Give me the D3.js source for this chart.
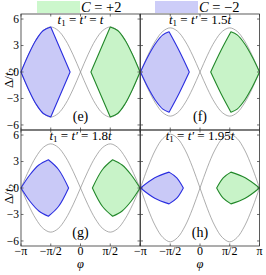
<!DOCTYPE html>
<html>
<head>
<meta charset="utf-8">
<script src="https://cdn.jsdelivr.net/npm/d3@7"></script>
<style>
  body { margin: 0; background: #fff; }
</style>
</head>
<body>
<div id="container"></div>
<script>
/* CONSTANTS AND GLOBALS */
const width = 266, height = 275;
const colX = [21, 140.5], rowY = [14, 130];
const panelW = 119, panelH = 116;
const serif = "'Liberation Serif', 'Times New Roman', serif";

/* DATA - phi is in units of pi, gap in units of t2 */
const panelTags = ["(e)", "(f)", "(g)", "(h)"];
const hopLabels = ["t", "1.5t", "1.8t", "1.95t"];
const phiTicks = [-1, -0.5, 0, 0.5, 1];
const phiTickLabels = ["\u2212\u03c0", "\u2212\u03c0/2", "0", "\u03c0/2", "\u03c0"];
const gapTicks = [6, 3, 0, -3, -6];
const gapTickLabels = ["6", "3", "0", "\u22123", "\u22126"];

// gray gap-closing curve, left half lobe (phi from -1 to 0)
const grayPhi = [-1, -0.875, -0.75, -0.625, -0.5, -0.375, -0.25, -0.125, 0];
const grayE = [0, 1.95, 3.6, 4.7, 5.1, 4.7, 3.6, 1.95, 0];
const grayF = [0, 1.9, 3.5, 4.6, 5.0, 4.6, 3.5, 1.9, 0];
const grayG = [0, 1.9, 3.5, 4.6, 5.0, 4.6, 3.5, 1.9, 0];
const grayH = [0, 2.35, 4.3, 5.6, 6.1, 5.6, 4.3, 2.35, 0];

// C = -2 region, upper edge: [phi, gap], left arc then right arc (green is its mirror)
const blueLeftE = [[-1, 0], [-0.875, 1.95], [-0.75, 3.6], [-0.625, 4.7], [-0.5, 5.1]];
const blueRightE = [[-0.5, 5.1], [-0.175, 0]];
const blueLeftF = [[-1, 0], [-0.875, 1.75], [-0.75, 3.2], [-0.625, 4.2], [-0.52, 4.55]];
const blueRightF = [[-0.52, 4.55], [-0.35, 2.4], [-0.18, 0]];
const blueLeftG = [[-1, 0], [-0.85, 1.5], [-0.7, 2.6], [-0.54, 3.2]];
const blueRightG = [[-0.54, 3.2], [-0.37, 2.1], [-0.2, 0]];
const blueLeftH = [[-1, 0], [-0.76, 1.16], [-0.52, 1.8]];
const blueRightH = [[-0.52, 1.8], [-0.39, 1.16], [-0.28, 0]];

const grays = [grayE, grayF, grayG, grayH];
const blueArcs = [[blueLeftE, blueRightE], [blueLeftF, blueRightF], [blueLeftG, blueRightG], [blueLeftH, blueRightH]];

const blueFill = "#c9c9f7", blueLine = "#2a2ee0";
const greenFill = "#c8f3c8", greenLine = "#22882a";

/* INIT */
const svg = d3.select("#container").append("svg")
  .attr("width", width).attr("height", height)
  .attr("font-family", serif);

function addText(sel) {
  return sel.append("text").attr("font-family", serif).attr("fill", "#000");
}

// legend
const legend = [
  {x: 37, fill: "#ccf7cc", sign: "+2"},
  {x: 155, fill: "#cdcdf8", sign: "\u22122"}
];
legend.forEach(l => {
  svg.append("rect").attr("x", l.x).attr("y", 1).attr("width", 43).attr("height", 12).attr("fill", l.fill);
  const t = addText(svg).attr("x", l.x + 44).attr("y", 12).attr("font-size", 14.5);
  t.append("tspan").attr("font-style", "italic").text("C");
  t.append("tspan").text(" = " + l.sign);
});

function outlinePath(arcs, x, y, mirror) {
  const line = d3.line().x(d => x(mirror ? -d[0] : d[0])).y(d => y(d[1]))
    .curve(d3.curveCatmullRom.alpha(0.5));
  const [left, right] = arcs;
  const lower = a => a.map(d => [d[0], -d[1]]).reverse();
  const parts = [left, right, lower(right), lower(left)];
  return parts.map((p, i) => i ? line(p).replace(/^M/, "L") : line(p)).join("") + "Z";
}

panelTags.forEach((tag, i) => {
  const col = i % 2, row = Math.floor(i / 2);
  const x0 = colX[col], y0 = rowY[row];
  const x = d3.scaleLinear().domain([-1, 1]).range([x0, x0 + panelW]);
  const y = d3.scaleLinear().domain([-6.57, 6.57]).range([y0 + panelH, y0]);
  const g = svg.append("g");

  // gray curves: full period built from the half lobe
  const lobe = grayPhi.map((p, k) => [p, grays[i][k]]);
  const upper = lobe.concat(lobe.slice(0, -1).reverse().map(d => [-d[0], -d[1]]));
  const grayLine = d3.line().x(d => x(d[0])).y(d => y(d[1])).curve(d3.curveCatmullRom.alpha(0.5));
  [1, -1].forEach(s => {
    g.append("path")
      .attr("d", grayLine(upper.map(d => [d[0], s * d[1]])))
      .attr("fill", "none").attr("stroke", "#8a8a8a").attr("stroke-width", 0.7);
  });

  // regions
  g.append("path").attr("d", outlinePath(blueArcs[i], x, y, false))
    .attr("fill", blueFill).attr("stroke", blueLine).attr("stroke-width", 1.1)
    .attr("stroke-linejoin", "round");
  g.append("path").attr("d", outlinePath(blueArcs[i], x, y, true))
    .attr("fill", greenFill).attr("stroke", greenLine).attr("stroke-width", 1.1)
    .attr("stroke-linejoin", "round");

  // frame + inward ticks
  g.append("rect").attr("x", x0).attr("y", y0).attr("width", panelW).attr("height", panelH)
    .attr("fill", "none").attr("stroke", "#333").attr("stroke-width", 0.8);
  const tk = 2.5;
  phiTicks.forEach(p => {
    g.append("line").attr("x1", x(p)).attr("x2", x(p)).attr("y1", y0 + panelH).attr("y2", y0 + panelH - tk)
      .attr("stroke", "#333").attr("stroke-width", 0.7);
    g.append("line").attr("x1", x(p)).attr("x2", x(p)).attr("y1", y0).attr("y2", y0 + tk)
      .attr("stroke", "#333").attr("stroke-width", 0.7);
  });
  gapTicks.forEach(v => {
    g.append("line").attr("x1", x0).attr("x2", x0 + tk).attr("y1", y(v)).attr("y2", y(v))
      .attr("stroke", "#333").attr("stroke-width", 0.7);
    g.append("line").attr("x1", x0 + panelW).attr("x2", x0 + panelW - tk).attr("y1", y(v)).attr("y2", y(v))
      .attr("stroke", "#333").attr("stroke-width", 0.7);
  });

  // y tick labels (left column)
  if (col === 0) {
    gapTicks.forEach((v, k) => {
      addText(g).attr("x", x0 - 2).attr("y", y(v) + 3.8).attr("text-anchor", "end")
        .attr("font-size", 11.5).text(gapTickLabels[k]);
    });
    const yl = addText(g).attr("font-size", 13).attr("text-anchor", "middle")
      .attr("transform", `translate(12.5,${y0 + panelH / 2 + 6}) rotate(-90)`);
    yl.append("tspan").text("\u0394/");
    yl.append("tspan").attr("font-style", "italic").text("t");
    yl.append("tspan").attr("font-size", 9).attr("dy", 2.5).text("2");
  }
  // x tick labels (bottom row)
  if (row === 1) {
    phiTicks.forEach((p, k) => {
      if (col === 0 && k === phiTicks.length - 1) return;
      addText(g).attr("x", x(p)).attr("y", y0 + panelH + 9).attr("text-anchor", "middle")
        .attr("font-size", 12).text(phiTickLabels[k]);
    });
    addText(g).attr("x", x(0)).attr("y", y0 + panelH + 21.5).attr("text-anchor", "middle")
      .attr("font-size", 12.5).attr("font-style", "italic").text("\u03c6");
  }

  // panel title
  const title = addText(g).attr("x", x(0)).attr("y", y0 + 9.5).attr("text-anchor", "middle")
    .attr("font-size", 13);
  title.append("tspan").attr("font-style", "italic").text("t");
  title.append("tspan").attr("font-size", 9).attr("dy", 2.5).text("1");
  title.append("tspan").attr("dy", -2.5).text(" = ");
  title.append("tspan").attr("font-style", "italic").text("t\u2032");
  const hop = hopLabels[i];
  title.append("tspan").text(" = " + hop.slice(0, -1));
  title.append("tspan").attr("font-style", "italic").text("t");

  // panel tag
  addText(g).attr("x", x(0)).attr("y", y0 + 107).attr("text-anchor", "middle")
    .attr("font-size", 14).text(tag);
});
</script>
</body>
</html>
